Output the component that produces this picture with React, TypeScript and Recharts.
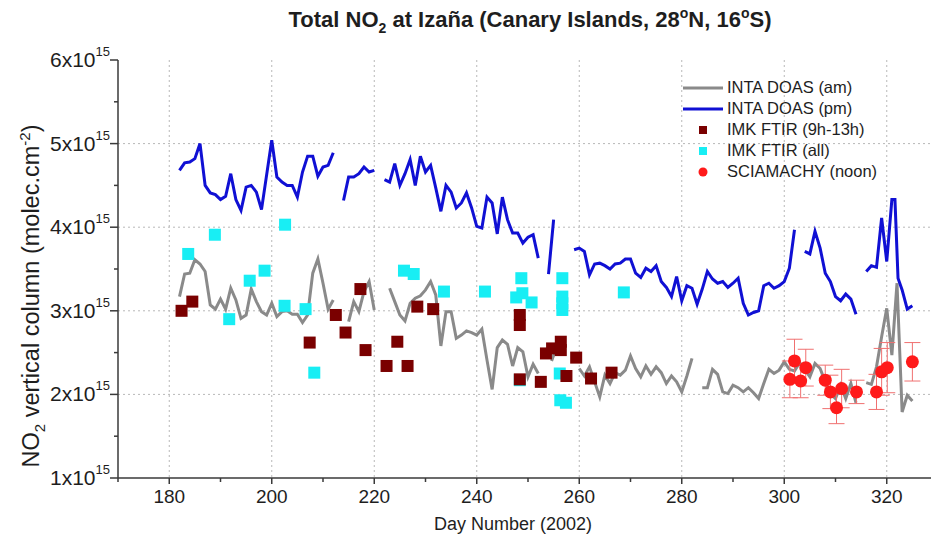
import { ComposedChart, Line, Scatter, XAxis, YAxis, CartesianGrid, ErrorBar, Legend } from 'recharts';

// NO2 vertical column, in units of 1e15 molec/cm2, per day of 2002 (null = gap in record)
const amDays = [
  182, 183, 184, 185, 186, 187, 188, 189, 190, 191, 192, 193, 194, 195, 196, 197, 198, 199, 200, 201, 202, 203, 204, 205, 206, 207, 208, 209, 210, 211, 212, 213,
  215, 216, 217, 218, 219, 220, 221,
  223, 224, 225, 226, 227, 228, 229, 230, 231, 232, 233, 234, 235, 236, 237, 238, 239, 240, 241, 242, 243, 244, 245, 246, 247, 248, 249, 250, 251, 252, 253,
  254.6, 255.2, 256,
  260, 261, 262, 263, 264, 265, 266, 267, 268, 269, 270, 271, 272, 273, 274, 275, 276, 277, 278, 279, 280, 281, 282, 283,
  284, 285, 286, 287, 288, 289, 290, 291, 292, 293, 294, 295, 296, 297, 298, 299, 300, 301, 302, 303, 304, 305, 306, 307, 308, 309, 310, 311, 312, 313, 314, 315,
  316, 317, 318, 319, 320, 321, 322, 323, 324, 325,
];
const amValues = [
  3.17, 3.44, 3.45, 3.61, 3.56, 3.47, 3.07, 3.02, 3.14, 3.02, 3.27, 3.13, 2.91, 2.95, 3.26, 3.11, 2.99, 2.95, 3.09, 2.93, 2.99, 3.0, 2.96, 2.96, 2.86, 2.95, 3.45, 3.62, 3.33, 3.02, 3.13, null,
  2.87, 3.11, 2.99, 3.23, 3.35, 3.01, null,
  3.27, 3.11, 2.95, 2.88, 3.09, 3.15, 3.18, 3.25, 3.35, 3.19, 2.58, 2.99, 2.99, 2.67, 2.71, 2.76, 2.74, 2.71, 2.78, 2.41, 2.06, 2.56, 2.65, 2.6, 2.34, 2.56, 2.51, 2.21, 2.36, 2.25, null,
  2.4, 2.5, null,
  2.31, 2.22, 2.33, 2.15, 1.97, 2.23, 2.13, 2.26, 2.23, 2.29, 2.46, 2.31, 2.21, 2.34, 2.24, 2.33, 2.26, 2.13, 2.22, 2.15, 2.03, 2.22, 2.43, null,
  2.08, 2.08, 2.3, 2.24, 2.03, 2.01, 2.11, 2.08, 2.03, 2.08, 2.02, 1.95, 2.13, 2.3, 2.25, 2.29, 2.39, 2.3, 2.28, 2.38, 2.3, 2.21, 2.37, 2.31, 2.15, 2.01, 1.95, 2.11, 1.95, 2.13, 1.9, null,
  2.14, 2.12, 2.33, 2.69, 3.03, 2.47, 3.33, 1.79, 1.99, 1.92,
];

const pmDays = [
  182, 183, 184, 185, 186, 187, 188, 189, 190, 191, 192, 193, 194, 195, 196, 197, 198,
  200, 201, 202, 203, 204, 205, 206, 207, 208, 209, 210, 211, 212, 213,
  214, 215, 216, 217, 218, 219, 220, 221,
  222, 223, 224, 225, 226, 227, 228, 229, 230, 231, 232, 233, 234, 235, 236, 237, 238, 239, 240, 241, 242, 243, 244, 245, 246, 247, 248, 249, 250, 251, 252, 253,
  254, 255, 256,
  259, 260, 261, 262, 263, 264, 265, 266, 267, 268, 269, 270, 271, 272, 273, 274, 275, 276, 277, 278, 279, 280, 281, 282, 283,
  284, 285, 286, 287, 288, 289, 290, 291, 292, 293, 294, 295, 296, 297, 298, 299, 300, 301, 302, 303,
  304, 305, 306, 307, 308, 309, 310, 311, 312, 313, 314, 315,
  316, 317, 318, 319, 320, 321, 321.6, 322.2, 323, 324, 325,
];
const pmValues = [
  4.68, 4.77, 4.78, 4.82, 5.0, 4.5, 4.41, 4.39, 4.33, 4.37, 4.64, 4.33, 4.2, 4.48, 4.5, 4.42, 4.21,
  5.04, 4.6, 4.54, 4.5, 4.5, 4.36, 4.66, 4.85, 4.85, 4.61, 4.72, 4.74, 4.89, null,
  4.32, 4.6, 4.6, 4.64, 4.72, 4.66, 4.68, null,
  4.57, 4.54, 4.76, 4.5, 4.64, 4.81, 4.5, 4.85, 4.66, 4.74, 4.47, 4.19, 4.5, 4.42, 4.23, 4.29, 4.41, 4.23, 4.01, 3.99, 4.36, 4.29, 3.92, 4.36, 4.09, 3.93, 3.93, 3.81, 3.88, 3.91, 3.63, null,
  3.44, 4.09, null,
  3.73, 3.75, 3.71, 3.43, 3.56, 3.57, 3.54, 3.5, 3.56, 3.57, 3.62, 3.62, 3.45, 3.4, 3.51, 3.47, 3.54, 3.35, 3.28, 3.17, 3.41, 3.12, 3.3, 3.27, 3.08,
  3.26, 3.47, 3.38, 3.33, 3.35, 3.28, 3.33, 3.39, 3.09, 2.95, 2.98, 3.0, 3.3, 3.33, 3.27, 3.3, 3.35, 3.51, 3.97, null,
  3.71, 3.68, 3.95, 3.75, 3.45, 3.35, 3.17, 3.12, 3.2, 3.14, 2.96, null,
  3.47, 3.54, 3.52, 4.11, 3.59, 4.33, 4.33, 3.39, 3.25, 3.02, 3.06,
];

const ftirNoonDays = [182.4, 184.5, 207.4, 212.5, 214.4, 217.3, 218.3, 222.4, 224.5, 226.5, 228.4, 231.5, 248.4, 248.4, 248.4, 252.5, 253.5, 254.7, 256.4, 256.4, 257.5, 259.4, 262.3, 266.3];
const ftirNoonValues = [3.0, 3.11, 2.62, 2.95, 2.74, 3.26, 2.53, 2.34, 2.63, 2.34, 3.05, 3.02, 2.95, 2.83, 2.18, 2.15, 2.49, 2.55, 2.63, 2.53, 2.22, 2.44, 2.19, 2.26];

const ftirAllDays = [183.7, 188.9, 191.7, 195.7, 198.6, 202.6, 202.5, 206.6, 208.3, 225.8, 227.7, 233.6, 241.6, 247.7, 248.7, 248.9, 250.7, 248.4, 256.7, 256.7, 256.7, 256.7, 256.2, 256.3, 257.4, 268.7];
const ftirAllValues = [3.68, 3.91, 2.9, 3.36, 3.48, 4.03, 3.06, 3.02, 2.26, 3.48, 3.44, 3.23, 3.23, 3.16, 3.39, 3.21, 3.1, 2.17, 3.39, 3.17, 3.09, 3.01, 2.25, 1.93, 1.9, 3.22];

const sciaDays = [301.1, 302.0, 303.2, 304.2, 308.0, 309.0, 310.2, 311.2, 314.1, 318.0, 319.0, 320.1, 325.0];
const sciaValues = [2.18, 2.4, 2.16, 2.32, 2.17, 2.03, 1.84, 2.07, 2.03, 2.03, 2.27, 2.32, 2.39];
const sciaErrors = [0.22, 0.26, 0.2, 0.22, 0.18, 0.2, 0.19, 0.23, 0.14, 0.21, 0.28, 0.3, 0.23];

const xTicks = [170, 180, 190, 200, 210, 220, 230, 240, 250, 260, 270, 280, 290, 300, 310, 320, 330];
const yTicks = [1, 1.5, 2, 2.5, 3, 3.5, 4, 4.5, 5, 5.5, 6];
const xGrid = [180, 200, 220, 240, 260, 280, 300, 320];
const yGrid = [2, 3, 4, 5];

const legendLabels = ['INTA DOAS (am)', 'INTA DOAS (pm)', 'IMK FTIR (9h-13h)', 'IMK FTIR (all)', 'SCIAMACHY (noon)'];

const FONT = "'Liberation Sans', Arial, sans-serif";
const AXIS = '#3a3a3a';
const TEXT = '#1e1e1e';
const GRID = '#b8b8b8';
const GRAY = '#8a8a8a';
const BLUE = '#1010d4';
const DARKRED = '#7a0000';
const CYAN = '#18eef4';
const RED = '#ff1a1a';

const toRows = (days: number[], values: (number | null)[]) => days.map((day, i) => ({ day, v: values[i] }));

const amData = toRows(amDays, amValues);
const pmData = toRows(pmDays, pmValues);
const ftirNoonData = toRows(ftirNoonDays, ftirNoonValues);
const ftirAllData = toRows(ftirAllDays, ftirAllValues);
const sciaData = sciaDays.map((day, i) => ({ day, v: sciaValues[i], err: sciaErrors[i] }));

function BottomTick(props: any) {
  const { x, y, payload } = props;
  const major = payload.value % 20 === 0;
  return (
    <g>
      <line x1={x} x2={x} y1={y} y2={y + (major ? 6 : 4)} stroke={AXIS} strokeWidth={1.5} />
      {major && (
        <text x={x} y={y + 25} textAnchor="middle" fontSize={19} fill={TEXT}>
          {payload.value}
        </text>
      )}
    </g>
  );
}

function TopTick(props: any) {
  const { x, y, payload } = props;
  const major = payload.value % 20 === 0;
  return <line x1={x} x2={x} y1={y} y2={y - (major ? 6 : 4)} stroke={AXIS} strokeWidth={1.5} />;
}

function LeftTick(props: any) {
  const { x, y, payload } = props;
  const major = Number.isInteger(payload.value);
  return (
    <g>
      <line x1={x - (major ? 8 : 4)} x2={x} y1={y} y2={y} stroke={AXIS} strokeWidth={1.5} />
      {major && (
        <text x={x - 8} y={y + 7} textAnchor="end" fontSize={21} fill={TEXT}>
          {payload.value}x10<tspan dy={-11} fontSize={13}>15</tspan>
        </text>
      )}
    </g>
  );
}

const square = (color: string) => (p: any) => <rect x={p.cx - 6} y={p.cy - 6} width={12} height={12} fill={color} />;
const dot = (p: any) => <circle cx={p.cx} cy={p.cy} r={6.5} fill={RED} />;

function LegendBox() {
  const marks = [
    <line key="a" x1={0} x2={40} y1={10} y2={10} stroke={GRAY} strokeWidth={3} />,
    <line key="b" x1={0} x2={40} y1={10} y2={10} stroke={BLUE} strokeWidth={3} />,
    <rect key="c" x={16} y={6} width={8} height={8} fill={DARKRED} />,
    <rect key="d" x={16} y={6} width={8} height={8} fill={CYAN} />,
    <circle key="e" cx={20} cy={10} r={4.5} fill={RED} />,
  ];
  return (
    <div style={{ fontFamily: FONT, fontSize: 16.5, color: TEXT }}>
      {legendLabels.map((label, i) => (
        <div key={label} style={{ display: 'flex', alignItems: 'center', height: 21 }}>
          <svg width={40} height={20}>{marks[i]}</svg>
          <span style={{ marginLeft: 4, whiteSpace: 'nowrap' }}>{label}</span>
        </div>
      ))}
    </div>
  );
}

export default function App() {
  return (
    <div style={{ position: 'fixed', left: 0, top: 0, width: 931, height: 543, overflow: 'hidden', background: '#fff', fontFamily: FONT }}>
      <ComposedChart width={950} height={543} margin={{ top: 60, right: 12, bottom: 35, left: 38 }}>
        <CartesianGrid
          stroke={GRID}
          strokeWidth={1}
          strokeDasharray="2 3"
          horizontalValues={yGrid}
          verticalValues={xGrid}
        />
        <XAxis
          type="number"
          dataKey="day"
          domain={[170, 330]}
          ticks={xTicks}
          interval={0}
          tickSize={0}
          tickMargin={0}
          tickLine={false}
          tick={(p: any) => <BottomTick {...p} />}
          axisLine={{ stroke: AXIS, strokeWidth: 1.5 }}
          height={30}
        />
        <XAxis
          xAxisId="top"
          orientation="top"
          type="number"
          domain={[170, 330]}
          ticks={xTicks}
          interval={0}
          tickSize={0}
          tickMargin={0}
          tickLine={false}
          tick={(p: any) => <TopTick {...p} />}
          axisLine={{ stroke: AXIS, strokeWidth: 1.5 }}
          height={0}
        />
        <YAxis
          type="number"
          dataKey="v"
          domain={[1, 6]}
          ticks={yTicks}
          interval={0}
          tickSize={0}
          tickMargin={0}
          tickLine={false}
          tick={(p: any) => <LeftTick {...p} />}
          axisLine={{ stroke: AXIS, strokeWidth: 1.5 }}
          width={80}
        />
        <Line data={amData} dataKey="v" stroke={GRAY} strokeWidth={3} dot={false} activeDot={false} isAnimationActive={false} />
        <Line data={pmData} dataKey="v" stroke={BLUE} strokeWidth={3} dot={false} activeDot={false} isAnimationActive={false} />
        <Scatter data={ftirAllData} dataKey="v" shape={square(CYAN)} isAnimationActive={false} />
        <Scatter data={ftirNoonData} dataKey="v" shape={square(DARKRED)} isAnimationActive={false} />
        <Scatter data={sciaData} dataKey="v" shape={dot} isAnimationActive={false}>
          <ErrorBar dataKey="err" direction="y" width={8} stroke="#f07070" strokeWidth={1} />
        </Scatter>
        <Legend
          layout="vertical"
          align="center"
          verticalAlign="middle"
          content={() => <LegendBox />}
          wrapperStyle={{ left: 683, top: 77, width: 240 }}
        />
      </ComposedChart>
      <div style={{ position: 'absolute', left: 530, top: 20, transform: 'translate(-50%, -50%)', whiteSpace: 'nowrap', fontWeight: 'bold', fontSize: 22, color: TEXT, lineHeight: 1 }}>
        Total NO<span style={{ fontSize: 14, position: 'relative', top: 6 }}>2</span> at Izaña (Canary Islands, 28
        <span style={{ fontSize: 14, position: 'relative', top: -9 }}>o</span>N, 16
        <span style={{ fontSize: 14, position: 'relative', top: -9 }}>o</span>S)
      </div>
      <div style={{ position: 'absolute', left: 32, top: 296, transform: 'translate(-50%, -50%) rotate(-90deg)', whiteSpace: 'nowrap', fontSize: 23.5, color: TEXT, lineHeight: 1 }}>
        NO<span style={{ fontSize: 15, position: 'relative', top: 6 }}>2</span> vertical column (molec.cm
        <span style={{ fontSize: 15, position: 'relative', top: -9 }}>-2</span>)
      </div>
      <div style={{ position: 'absolute', left: 513, top: 524, transform: 'translate(-50%, -50%)', whiteSpace: 'nowrap', fontSize: 18, color: TEXT, lineHeight: 1 }}>
        Day Number (2002)
      </div>
    </div>
  );
}
